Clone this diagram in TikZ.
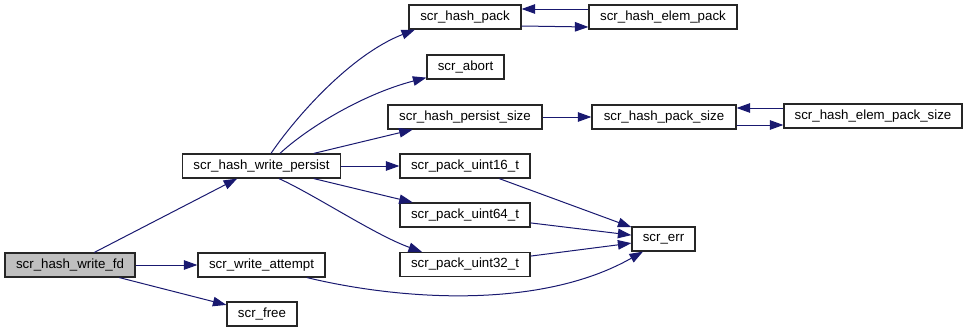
\documentclass[tikz,border=0pt]{standalone}
\usepackage{fontspec}
\setmainfont{Liberation Sans}
\usetikzlibrary{arrows.meta}
\definecolor{edgeblue}{HTML}{191970}
\definecolor{rootfill}{HTML}{BFBFBF}
\begin{document}
\begin{tikzpicture}[x=1pt,y=-1pt,
  fn/.style={draw=black!85,line width=1.2pt,fill=white,minimum height=24pt,
    inner sep=0pt,font=\fontsize{13.3}{16}\selectfont},
  call/.style={draw=edgeblue,line width=1pt,
    -{Triangle[length=13.5pt,width=9.5pt]}}]
\useasboundingbox (0,0) rectangle (969,332);

% functions
\node[fn,fill=rootfill,minimum width=130pt] (fd) at (70,265) {scr\_hash\_write\_fd};
\node[fn,minimum width=158pt] (persist) at (261.5,166) {scr\_hash\_write\_persist};
\node[fn,minimum width=127pt] (attempt) at (261.5,265) {scr\_write\_attempt};
\node[fn,minimum width=70pt] (free) at (262,314) {scr\_free};
\node[fn,minimum width=112pt] (hpack) at (465,17) {scr\_hash\_pack};
\node[fn,minimum width=148pt] (epack) at (663,17) {scr\_hash\_elem\_pack};
\node[fn,minimum width=77pt] (abort) at (465.5,67) {scr\_abort};
\node[fn,minimum width=154pt] (psize) at (465,117) {scr\_hash\_persist\_size};
\node[fn,minimum width=144pt] (packsize) at (664,117) {scr\_hash\_pack\_size};
\node[fn,minimum width=178pt] (elemsize) at (873,116) {scr\_hash\_elem\_pack\_size};
\node[fn,minimum width=130pt] (u16) at (465,166) {scr\_pack\_uint16\_t};
\node[fn,minimum width=130pt] (u64) at (465,215) {scr\_pack\_uint64\_t};
\node[fn,minimum width=130pt] (u32) at (465,264.5) {scr\_pack\_uint32\_t};
\node[fn,minimum width=63pt] (err) at (663.5,239) {scr\_err};

% calls from scr_hash_write_fd
\draw[call] (fd) -- (persist);
\draw[call] (fd) -- (attempt);
\draw[call] (fd) -- (free);

% calls from scr_hash_write_persist
\draw[call] ([xshift=9.5pt]persist.north) .. controls (295,118) and (350,55) .. ([xshift=-50pt]hpack.south);
\draw[call] ([xshift=18.5pt]persist.north) .. controls (305,130) and (360,95) .. ([yshift=2pt]abort.south west);
\draw[call] (persist) -- (psize);
\draw[call] (persist) -- (u16);
\draw[call] (persist) -- (u64);
\draw[call] ([xshift=17.5pt]persist.south) .. controls (315,195) and (375,235) .. ([xshift=-43pt]u32.north);

% mutual calls
\draw[call] ([yshift=-9pt]hpack.east) -- ([yshift=-10pt]epack.west);
\draw[call] ([yshift=8pt]epack.west) -- ([yshift=8pt]hpack.east);
\draw[call] (psize) -- (packsize);
\draw[call] ([yshift=-8pt]packsize.east) -- ([yshift=-9pt]elemsize.west);
\draw[call] ([yshift=8pt]elemsize.west) -- ([yshift=9pt]packsize.east);

% calls into scr_err
\draw[call] (u16) -- (err);
\draw[call] (u64) -- (err);
\draw[call] (u32) -- (err);
\draw[call] ([xshift=45.5pt]attempt.south) .. controls (400,300) and (540,310) .. ([xshift=-20.5pt]err.south);
\end{tikzpicture}
\end{document}
